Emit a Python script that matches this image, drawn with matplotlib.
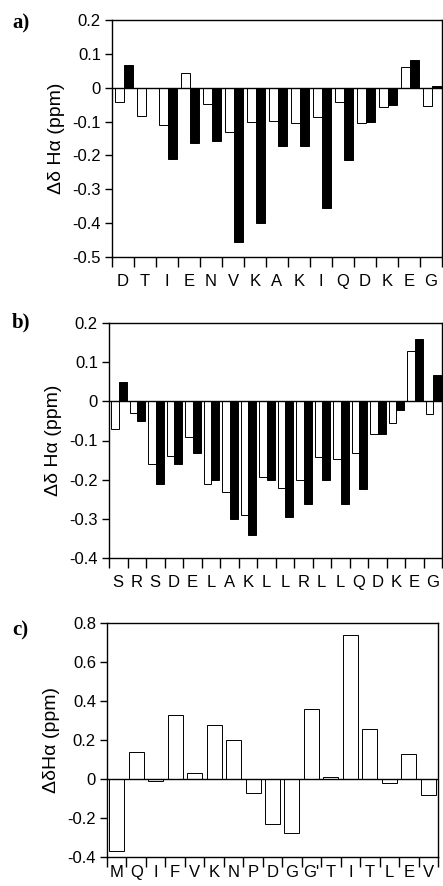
import numpy as np
import matplotlib
matplotlib.use("Agg")
import matplotlib.pyplot as plt

plt.rcParams['font.family'] = ['Liberation Sans', 'DejaVu Sans']

# panel a
res_a = ['D', 'T', 'I', 'E', 'N', 'V', 'K', 'A', 'K', 'I', 'Q', 'D', 'K', 'E', 'G']
white_a = [-0.043, -0.084, -0.111, 0.043, -0.047, -0.132, -0.100, -0.097, -0.105, -0.087,
           -0.043, -0.104, -0.056, 0.062, -0.054]
black_a = [0.067, 0.0, -0.210, -0.163, -0.158, -0.455, -0.400, -0.171, -0.171, -0.356,
           -0.213, -0.100, -0.052, 0.081, 0.005]

# panel b
res_b = ['S', 'R', 'S', 'D', 'E', 'L', 'A', 'K', 'L', 'L', 'R', 'L', 'L', 'Q', 'D', 'K', 'E', 'G']
white_b = [-0.071, -0.031, -0.160, -0.140, -0.091, -0.211, -0.231, -0.291, -0.192, -0.221,
           -0.202, -0.142, -0.146, -0.132, -0.083, -0.055, 0.128, -0.032]
black_b = [0.049, -0.051, -0.211, -0.160, -0.132, -0.202, -0.300, -0.341, -0.202, -0.296,
           -0.262, -0.202, -0.262, -0.223, -0.083, -0.023, 0.159, 0.067]

# panel c
res_c = ['M', 'Q', 'I', 'F', 'V', 'K', 'N', 'P', 'D', 'G', "G'", 'T', 'I', 'T', 'L', 'E', 'V']
vals_c = [-0.368, 0.141, -0.009, 0.330, 0.031, 0.279, 0.198, -0.070, -0.232, -0.278,
          0.360, 0.009, 0.739, 0.257, -0.022, 0.128, -0.083]

fig = plt.figure(figsize=(4.43, 8.86), dpi=100)
W, H = 443.0, 886.0


def make_ax(l, r, t, b):
    return fig.add_axes([l / W, 1 - b / H, (r - l) / W, (b - t) / H])


def style(ax, labels, ylim, yticks, ylab, xpad=12):
    n = len(labels)
    ax.set_xlim(0, n)
    ax.set_ylim(*ylim)
    ax.axhline(0, color='black', lw=1.0, zorder=3)
    ax.set_xticks(np.arange(n + 1))
    ax.set_xticklabels([])
    ax.set_xticks(np.arange(n) + 0.5, minor=True)
    ax.set_xticklabels(labels, minor=True, fontsize=12)
    ax.tick_params(axis='x', which='major', direction='out', length=7, width=1)
    ax.tick_params(axis='x', which='minor', length=0, pad=xpad)
    ax.set_yticks(yticks)
    ax.set_yticklabels(['0' if abs(v) < 1e-9 else ('%g' % v) for v in yticks], fontsize=12)
    ax.tick_params(axis='y', direction='out', length=5, width=1, pad=3)
    ax.set_ylabel(ylab, fontsize=14, labelpad=5)
    for s in ax.spines.values():
        s.set_linewidth(1.0)


# a
ax1 = make_ax(112, 442, 20, 257)
x = np.arange(len(res_a))
ax1.bar(x + 0.33, white_a, width=0.42, color='white', edgecolor='black', lw=0.7)
ax1.bar(x + 0.74, black_a, width=0.42, color='black', edgecolor='black', lw=0.7)
style(ax1, res_a, (-0.5, 0.2), [-0.5, -0.4, -0.3, -0.2, -0.1, 0, 0.1, 0.2], 'Δδ Hα (ppm)')

# b
ax2 = make_ax(109, 442, 323, 558)
x = np.arange(len(res_b))
ax2.bar(x + 0.33, white_b, width=0.42, color='white', edgecolor='black', lw=0.7)
ax2.bar(x + 0.74, black_b, width=0.42, color='black', edgecolor='black', lw=0.7)
style(ax2, res_b, (-0.4, 0.2), [-0.4, -0.3, -0.2, -0.1, 0, 0.1, 0.2], 'Δδ Hα (ppm)')

# c
ax3 = make_ax(107, 438, 623, 857)
x = np.arange(len(res_c))
ax3.bar(x + 0.5, vals_c, width=0.77, color='white', edgecolor='black', lw=0.7)
style(ax3, res_c, (-0.4, 0.8), [-0.4, -0.2, 0, 0.2, 0.4, 0.6, 0.8], 'ΔδHα (ppm)', xpad=6)

for lab, yy in [('a)', 23), ('b)', 322), ('c)', 630)]:
    fig.text(12 / W, 1 - yy / H, lab, fontsize=15, fontweight='bold',
             family='Liberation Serif', va='center', ha='left')

fig.savefig('out.png', dpi=100)
